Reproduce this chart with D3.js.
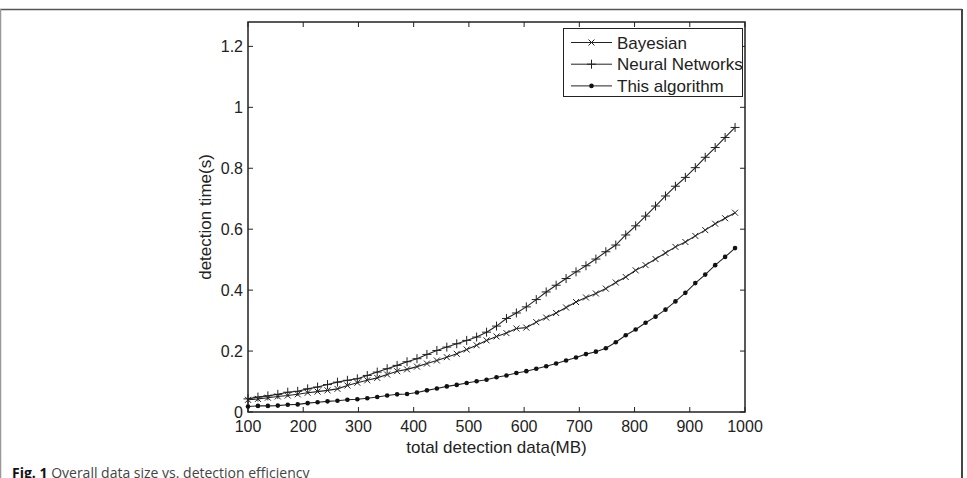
<!DOCTYPE html>
<html>
<head>
    <script src="https://d3js.org/d3.v7.min.js"></script>
    <style>
        body { margin: 0; background: #fff; }
        svg { display: block; }
    </style>
</head>
<body>
    <svg width="967" height="478"></svg>

    <script>
        // data size (MB) at each sample
        var dataSize = [100, 118, 136, 154, 172, 190, 208, 226, 244, 262,
                        280, 298, 316, 334, 352, 370, 388, 406, 424, 442,
                        460, 478, 496, 514, 532, 550, 568, 586, 604, 622,
                        640, 658, 676, 694, 712, 730, 748, 766, 784, 802,
                        820, 838, 856, 874, 892, 910, 928, 946, 964, 982];

        var bayesian = [0.040, 0.043, 0.047, 0.051, 0.054, 0.058, 0.063, 0.067, 0.071, 0.076,
                        0.087, 0.096, 0.104, 0.112, 0.123, 0.134, 0.140, 0.149, 0.159, 0.169,
                        0.180, 0.191, 0.205, 0.219, 0.235, 0.248, 0.259, 0.274, 0.277, 0.295,
                        0.310, 0.325, 0.343, 0.361, 0.376, 0.389, 0.405, 0.425, 0.443, 0.465,
                        0.482, 0.502, 0.522, 0.542, 0.558, 0.578, 0.597, 0.618, 0.636, 0.654];

        var neural = [0.043, 0.049, 0.053, 0.058, 0.065, 0.068, 0.076, 0.082, 0.090, 0.098,
                      0.104, 0.109, 0.120, 0.131, 0.142, 0.153, 0.165, 0.175, 0.189, 0.202,
                      0.213, 0.224, 0.235, 0.246, 0.262, 0.282, 0.307, 0.325, 0.345, 0.369,
                      0.394, 0.416, 0.438, 0.460, 0.480, 0.502, 0.526, 0.548, 0.581, 0.611,
                      0.643, 0.676, 0.709, 0.741, 0.770, 0.802, 0.836, 0.868, 0.901, 0.934];

        var thisAlg = [0.018, 0.020, 0.020, 0.021, 0.024, 0.025, 0.029, 0.032, 0.035, 0.037,
                       0.040, 0.042, 0.045, 0.049, 0.054, 0.058, 0.059, 0.064, 0.071, 0.077,
                       0.084, 0.089, 0.095, 0.101, 0.106, 0.114, 0.120, 0.128, 0.134, 0.142,
                       0.150, 0.159, 0.169, 0.179, 0.190, 0.198, 0.209, 0.229, 0.252, 0.271,
                       0.293, 0.313, 0.336, 0.363, 0.391, 0.423, 0.451, 0.482, 0.509, 0.538];

        var xTicks = [100, 200, 300, 400, 500, 600, 700, 800, 900, 1000];
        var yTicks = [0, 0.2, 0.4, 0.6, 0.8, 1, 1.2];

        var series = [
            {name: "Bayesian", values: bayesian, marker: "x"},
            {name: "Neural Networks", values: neural, marker: "+"},
            {name: "This algorithm", values: thisAlg, marker: "dot"}
        ];

        var svg = d3.select("svg");
        var font = "'Liberation Sans', Arial, sans-serif";

        // figure frame
        svg.append("line").attr("x1", 0).attr("x2", 962).attr("y1", 9.5).attr("y2", 9.5)
            .attr("stroke", "#555").attr("stroke-width", 1.5);
        svg.append("line").attr("x1", 0.5).attr("x2", 0.5).attr("y1", 9).attr("y2", 478)
            .attr("stroke", "#999").attr("stroke-width", 1.5);
        svg.append("line").attr("x1", 962).attr("x2", 962).attr("y1", 9).attr("y2", 478)
            .attr("stroke", "#444").attr("stroke-width", 2);

        var pLeft = 248, pRight = 745, pTop = 22, pBottom = 412;

        var x = d3.scaleLinear().domain([100, 1000]).range([pLeft, pRight]);
        var y = d3.scaleLinear().domain([0, 1.28]).range([pBottom, pTop]);

        var g = svg.append("g");

        // ticks inside the box, on all four sides
        var tl = 5;
        xTicks.forEach(function(t) {
            g.append("line").attr("x1", x(t)).attr("x2", x(t)).attr("y1", pBottom).attr("y2", pBottom - tl)
                .attr("stroke", "#222");
            g.append("line").attr("x1", x(t)).attr("x2", x(t)).attr("y1", pTop).attr("y2", pTop + tl)
                .attr("stroke", "#222");
            g.append("text").attr("x", x(t)).attr("y", pBottom + 20)
                .attr("text-anchor", "middle").style("font-family", font).style("font-size", "16px")
                .attr("fill", "#222").text(t);
        });
        yTicks.forEach(function(t) {
            g.append("line").attr("x1", pLeft).attr("x2", pLeft + tl).attr("y1", y(t)).attr("y2", y(t))
                .attr("stroke", "#222");
            g.append("line").attr("x1", pRight).attr("x2", pRight - tl).attr("y1", y(t)).attr("y2", y(t))
                .attr("stroke", "#222");
            g.append("text").attr("x", pLeft - 5).attr("y", y(t) + 6)
                .attr("text-anchor", "end").style("font-family", font).style("font-size", "16px")
                .attr("fill", "#222").text(t);
        });

        g.append("rect").attr("x", pLeft).attr("y", pTop).attr("width", pRight - pLeft).attr("height", pBottom - pTop)
            .attr("fill", "none").attr("stroke", "#222").attr("stroke-width", 1.5);

        // axis titles
        svg.append("text").attr("x", (pLeft + pRight) / 2).attr("y", 453)
            .attr("text-anchor", "middle").style("font-family", font).style("font-size", "17px")
            .attr("fill", "#222").text("total detection data(MB)");
        svg.append("text").attr("transform", "translate(211," + ((pTop + pBottom) / 2) + ") rotate(-90)")
            .attr("text-anchor", "middle").style("font-family", font).style("font-size", "17px")
            .attr("fill", "#222").text("detection time(s)");

        function drawMarker(sel, type, cx, cy) {
            if (type === "x") {
                var s = 3;
                sel.append("path").attr("d", "M" + (cx - s) + "," + (cy - s) + "L" + (cx + s) + "," + (cy + s) +
                    "M" + (cx - s) + "," + (cy + s) + "L" + (cx + s) + "," + (cy - s))
                    .attr("stroke", "#222").attr("stroke-width", 1).attr("fill", "none");
            } else if (type === "+") {
                var p = 4.5;
                sel.append("path").attr("d", "M" + (cx - p) + "," + cy + "L" + (cx + p) + "," + cy +
                    "M" + cx + "," + (cy - p) + "L" + cx + "," + (cy + p))
                    .attr("stroke", "#222").attr("stroke-width", 1).attr("fill", "none");
            } else {
                sel.append("circle").attr("cx", cx).attr("cy", cy).attr("r", 2.3).attr("fill", "#111");
            }
        }

        var line = d3.line()
            .x(function(d) { return x(d[0]); })
            .y(function(d) { return y(d[1]); });

        series.forEach(function(s) {
            var pts = dataSize.map(function(v, i) { return [v, s.values[i]]; });
            var sg = svg.append("g");
            sg.append("path").datum(pts).attr("d", line)
                .attr("fill", "none").attr("stroke", "#222").attr("stroke-width", 1.1);
            pts.forEach(function(p) { drawMarker(sg, s.marker, x(p[0]), y(p[1])); });
        });

        // legend
        var lg = svg.append("g");
        lg.append("rect").attr("x", 563.5).attr("y", 28.5).attr("width", 179).attr("height", 68)
            .attr("fill", "#fff").attr("stroke", "#222").attr("stroke-width", 1);
        series.forEach(function(s, i) {
            var ly = 42.5 + i * 21.7;
            lg.append("line").attr("x1", 571).attr("x2", 612).attr("y1", ly).attr("y2", ly)
                .attr("stroke", "#222").attr("stroke-width", 1);
            drawMarker(lg, s.marker, 591.5, ly);
            lg.append("text").attr("x", 617).attr("y", ly + 6)
                .style("font-family", font).style("font-size", "17px").attr("fill", "#222").text(s.name);
        });

        // caption
        var cap = svg.append("text").attr("x", 12).attr("y", 478)
            .style("font-family", "'Open Sans', 'Noto Sans', sans-serif").style("font-size", "14px");
        cap.append("tspan").attr("font-weight", "bold").attr("fill", "#111").text("Fig. 1");
        cap.append("tspan").attr("fill", "#444").text(" Overall data size vs. detection efficiency");
    </script>
</body>
</html>
